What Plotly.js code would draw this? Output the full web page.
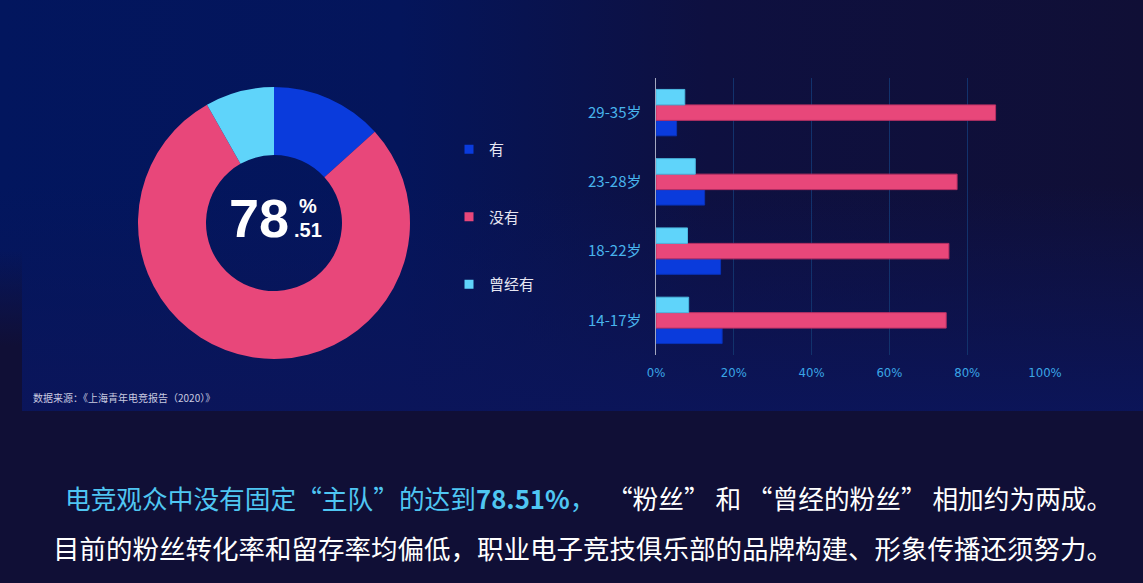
<!DOCTYPE html>
<html>
<head>
<meta charset="utf-8">
<script src="https://cdn.plot.ly/plotly-3.0.1.min.js"></script>
<style>
  html, body { margin: 0; padding: 0; width: 1143px; height: 583px; overflow: hidden; background: #100f36; }
  #panel {
    position: absolute; left: 0; top: 0; width: 1143px; height: 411px;
    background:
      linear-gradient(to bottom, rgba(11,21,90,0) 45%, rgba(11,21,90,0.95) 100%),
      linear-gradient(90deg, #02165e 0%, #04155b 35%, #0e1040 62%, #100f36 100%);
  }
  #strip { position: absolute; left: 0; top: 250px; width: 22px; height: 161px;
    background: linear-gradient(to bottom, rgba(16,15,54,0), #100f36 60%); }
  #chart { position: absolute; left: 0; top: 0; width: 1143px; height: 583px; }
</style>
</head>
<body>
<div id="panel"></div>
<div id="strip"></div>
<div id="chart"></div>
<script>
// 是否有支持的电竞战队（整体）
const statusLabels = ['有', '没有', '曾经有'];
const statusShares = [13.29, 78.51, 8.20];
const statusColors = ['#0a3bdc', '#e8477a', '#5fd4fa'];

// 按年龄段
const ageGroups = ['14-17岁', '18-22岁', '23-28岁', '29-35岁'];
const youValues = [17.0, 16.6, 12.5, 5.3];
const noValues = [74.6, 75.3, 77.4, 87.3];
const onceValues = [8.4, 8.1, 10.1, 7.4];

const xTicks = [0, 20, 40, 60, 80, 100];
const xTickText = ['0%', '20%', '40%', '60%', '80%', '100%'];

const CJK = '"Noto Sans CJK SC", "Noto Sans", sans-serif';
const paperX = px => px / 1143;
const paperY = px => (583 - px) / 583;

const donut = {
  type: 'pie',
  labels: statusLabels,
  values: statusShares,
  marker: { colors: statusColors, line: { width: 0 } },
  hole: 0.5,
  sort: false,
  direction: 'clockwise',
  rotation: 0,
  textinfo: 'none',
  showlegend: false,
  domain: { x: [paperX(138), paperX(410)], y: [paperY(359), paperY(87)] }
};

const barSeries = [youValues, noValues, onceValues];
const bars = barSeries.map((vals, i) => ({
  type: 'bar',
  orientation: 'h',
  x: vals,
  y: ageGroups,
  name: statusLabels[i],
  showlegend: false,
  marker: { color: statusColors[i], line: { width: 1, color: i === 1 ? '#b83064' : (i === 0 ? '#0832b8' : '#4cb8e0') } },
  xaxis: 'x',
  yaxis: 'y'
}));

// legend entries only
const legendItems = statusLabels.map((name, i) => ({
  type: 'scatter',
  mode: 'markers',
  x: [null],
  y: [null],
  name: name,
  legendgroup: 'g' + i,
  marker: { symbol: 'square', size: 9, color: statusColors[i] },
  hoverinfo: 'skip'
}));

function note(text, x, y, size, color, family, xanchor) {
  return {
    text: text, x: paperX(x), y: paperY(y), xref: 'paper', yref: 'paper',
    xanchor: xanchor || 'center', yanchor: 'middle', showarrow: false,
    font: { family: family || CJK, size: size, color: color }
  };
}

const ARIAL = '"Liberation Sans", Arial, sans-serif';

const layout = {
  width: 1143,
  height: 583,
  margin: { l: 0, r: 0, t: 0, b: 0 },
  paper_bgcolor: 'rgba(0,0,0,0)',
  plot_bgcolor: 'rgba(0,0,0,0)',
  font: { family: CJK, color: '#ffffff' },
  barmode: 'group',
  bargap: 0.33,
  bargroupgap: 0,
  showlegend: true,
  legend: {
    x: paperX(449),
    xanchor: 'left',
    y: paperY(133),
    yanchor: 'top',
    traceorder: 'grouped',
    tracegroupgap: 45,
    itemwidth: 30,
    bgcolor: 'rgba(0,0,0,0)',
    font: { family: CJK, size: 15, color: '#e6e6f2' }
  },
  xaxis: {
    domain: [paperX(656), paperX(1045)],
    range: [0, 100],
    tickvals: xTicks,
    ticktext: xTickText,
    showgrid: true,
    gridcolor: '#12326c',
    gridwidth: 1,
    zeroline: false,
    showline: false,
    ticks: 'outside',
    ticklen: 5,
    tickcolor: 'rgba(0,0,0,0)',
    tickfont: { family: '"DejaVu Sans Condensed", "Liberation Sans Narrow", sans-serif', size: 13, color: '#3aa6e6' },
    fixedrange: true
  },
  yaxis: {
    domain: [paperY(355), paperY(78)],
    type: 'category',
    categoryorder: 'array',
    categoryarray: ageGroups,
    range: [-0.5, 3.5],
    showgrid: false,
    zeroline: false,
    showline: true,
    linecolor: '#a4a8c0',
    linewidth: 1.5,
    ticks: 'outside',
    ticklen: 10,
    tickcolor: 'rgba(0,0,0,0)',
    tickfont: { family: CJK, size: 15, color: '#48b4ec' },
    fixedrange: true
  },
  annotations: [
    note('<b>78</b>', 259, 218, 54, '#ffffff', ARIAL),
    note('<b>%</b>', 308, 206, 20, '#ffffff', ARIAL),
    note('<b>.51</b>', 308, 230, 20, '#ffffff', ARIAL),
    note('数据来源：《上海青年电竞报告（2020）》', 31, 397, 10, '#c9cbe0', CJK, 'left'),
    note('<span style="color:#4fc6f2">电竞观众中没有固定“主队”的达到<b>78.51%</b>，</span>  “粉丝” 和 “曾经的粉丝” 相加约为两成。',
      588, 497, 25.7, '#ffffff'),
    note('目前的粉丝转化率和留存率均偏低，职业电子竞技俱乐部的品牌构建、形象传播还须努力。',
      583, 547, 26.5, '#ffffff')
  ]
};

Plotly.newPlot('chart', [donut, ...bars, ...legendItems], layout, { displayModeBar: false, staticPlot: true });
</script>
</body>
</html>
